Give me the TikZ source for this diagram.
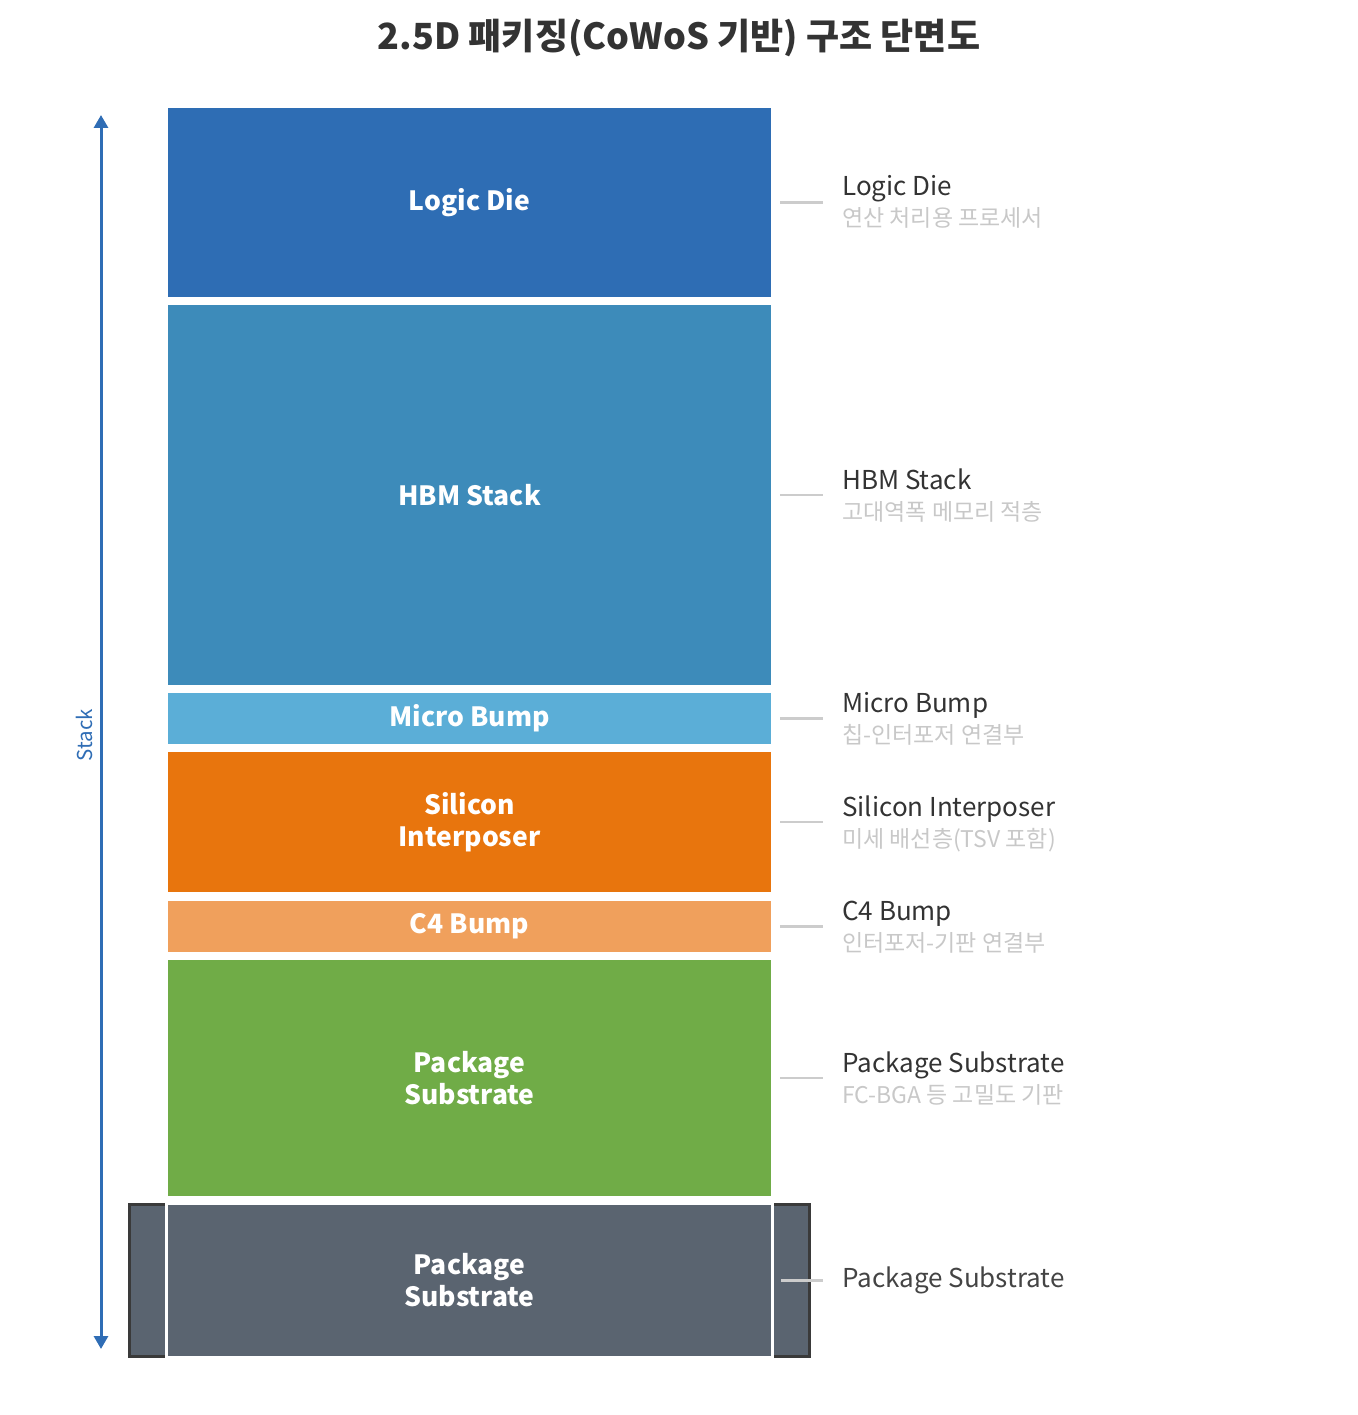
\documentclass[tikz,border=0pt]{standalone}
\usepackage{fontspec}
\setmainfont{Noto Sans CJK KR}
\usetikzlibrary{arrows.meta}
\definecolor{cLogic}{HTML}{2E6DB4}
\definecolor{cHbm}{HTML}{3D8BBA}
\definecolor{cMicro}{HTML}{5BAED7}
\definecolor{cSi}{HTML}{E8750D}
\definecolor{cCfour}{HTML}{F0A05C}
\definecolor{cPkg}{HTML}{70AC47}
\definecolor{cGray}{HTML}{5A6470}
\definecolor{cDark}{HTML}{3A3A3A}
\definecolor{cTitle}{HTML}{333333}
\definecolor{cSub}{HTML}{C8C8C8}
\definecolor{cLead}{HTML}{CCCCCC}
\definecolor{cArrow}{HTML}{2F6DB5}
\definecolor{cBase}{HTML}{444444}
\tikzset{
  block/.style={inner sep=0pt, minimum width=603pt, text=white, align=center,
     font=\fontsize{26.5}{32}\selectfont\bfseries},
  lbltitle/.style={anchor=base west, inner sep=0pt, text=cTitle, font=\fontsize{26}{30}\selectfont},
  lblsub/.style={anchor=base west, inner sep=0pt, text=cSub, font=\fontsize{23}{27}\selectfont},
  leader/.style={draw=cLead, line width=2.2pt},
}
\begin{document}
\begin{tikzpicture}[x=1pt,y=-1pt]
\useasboundingbox (0,0) rectangle (1357,1415);
% title
\node[text=cTitle, font=\fontsize{36}{42}\selectfont\bfseries] (title) at (679,38) {2.5D 패키징(CoWoS 기반) 구조 단면도};
% stack arrow
\coordinate (stackTop) at (101,115);
\coordinate (stackBot) at (101,1349);
\draw[cArrow, line width=3pt, {Triangle[width=14pt,length=13pt]}-{Triangle[width=14pt,length=13pt]}] (stackTop) -- (stackBot);
\node[rotate=90, text=cArrow, font=\fontsize{20.5}{22}\selectfont] (stacklbl) at (84,735) {Stack};
% blocks
\node[block, fill=cLogic, minimum height=189pt] (logic) at (469.5,202.5) {Logic Die};
\node[block, fill=cHbm, minimum height=380pt] (hbm) at (469.5,495) {HBM Stack};
\node[block, fill=cMicro, minimum height=51pt] (micro) at (469.5,718.5) {Micro Bump};
\node[block, fill=cSi, minimum height=140pt] (si) at (469.5,822) {Silicon\\Interposer};
\node[block, fill=cCfour, minimum height=51pt] (cfour) at (469.5,926.5) {C4 Bump};
\node[block, fill=cPkg, minimum height=236pt] (pkg) at (469.5,1078) {Package\\Substrate};
% bottom substrate with side frame
\node[draw=cDark, fill=cGray, line width=3pt, inner sep=0pt, minimum width=680pt, minimum height=152pt] (frame) at (469.5,1280.75) {};
\node[block, fill=cGray, draw=white, line width=3.5pt, minimum width=606pt, minimum height=154pt] (base) at (469.5,1280.5) {Package\\Substrate};
% right labels
\node[lbltitle] (logicT) at (842,196) {Logic Die};
\node[lblsub] (logicS) at (842,227) {연산 처리용 프로세서};
\node[lbltitle] (hbmT) at (842,489) {HBM Stack};
\node[lblsub] (hbmS) at (842,520) {고대역폭 메모리 적층};
\node[lbltitle] (microT) at (842,712) {Micro Bump};
\node[lblsub] (microS) at (842,743) {칩-인터포저 연결부};
\node[lbltitle] (siT) at (842,816) {Silicon Interposer};
\node[lblsub] (siS) at (842,847) {미세 배선층(TSV 포함)};
\node[lbltitle] (cfourT) at (842,920) {C4 Bump};
\node[lblsub] (cfourS) at (842,951) {인터포저-기판 연결부};
\node[lbltitle] (pkgT) at (842,1072) {Package Substrate};
\node[lblsub] (pkgS) at (842,1103) {FC-BGA 등 고밀도 기판};
\node[anchor=west, inner sep=0pt, text=cBase, font=\fontsize{26}{30}\selectfont] (baseT) at (842,1280) {Package Substrate};
% leaders
\coordinate (logicE) at (823,202.5);
\coordinate (hbmE) at (823,495);
\coordinate (microE) at (823,718.5);
\coordinate (siE) at (823,822);
\coordinate (cfourE) at (823,926.5);
\coordinate (pkgE) at (823,1078);
\coordinate (baseE) at (823,1280.5);
\draw[leader] ([xshift=9pt]logic.east) -- (logicE);
\draw[leader] ([xshift=9pt]hbm.east) -- (hbmE);
\draw[leader] ([xshift=9pt]micro.east) -- (microE);
\draw[leader] ([xshift=9pt]si.east) -- (siE);
\draw[leader] ([xshift=9pt]cfour.east) -- (cfourE);
\draw[leader] ([xshift=9pt]pkg.east) -- (pkgE);
\draw[leader] ([xshift=7pt]base.east) -- (baseE);
\end{tikzpicture}
\end{document}
